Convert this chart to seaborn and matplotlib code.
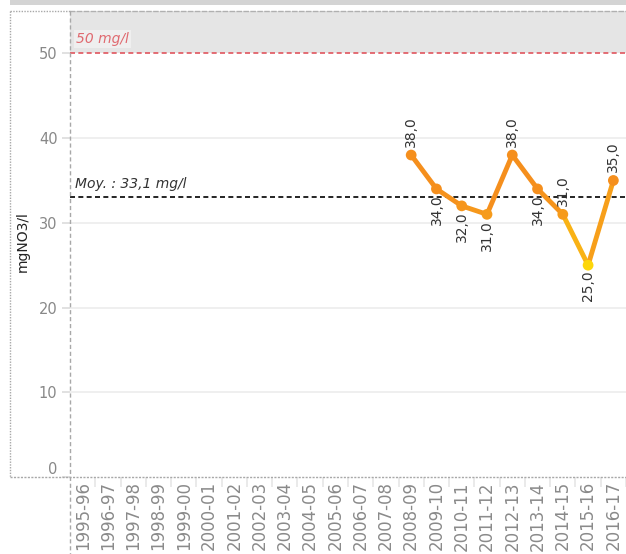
import numpy as np
import pandas as pd
import matplotlib
matplotlib.use('Agg')
import matplotlib.pyplot as plt
import seaborn as sns
from matplotlib.colors import LinearSegmentedColormap
from matplotlib.collections import LineCollection
from matplotlib.patches import Rectangle
from matplotlib.lines import Line2D

# Data
seasons = ['1995-96', '1996-97', '1997-98', '1998-99', '1999-00', '2000-01',
           '2001-02', '2002-03', '2003-04', '2004-05', '2005-06', '2006-07',
           '2007-08', '2008-09', '2009-10', '2010-11', '2011-12', '2012-13',
           '2013-14', '2014-15', '2015-16', '2016-17']
measured_seasons = ['2008-09', '2009-10', '2010-11', '2011-12', '2012-13',
                    '2013-14', '2014-15', '2015-16', '2016-17']
nitrate = [38.0, 34.0, 32.0, 31.0, 38.0, 34.0, 31.0, 25.0, 35.0]
label_above = [True, False, False, False, True, False, True, False, True]
limit_value = 50
mean_value = 33.1
y_ticks = [0, 10, 20, 30, 40, 50]

sns.set_theme(style='white')
plt.rcParams['font.family'] = ['DejaVu Sans']

df = pd.DataFrame({'season': measured_seasons, 'no3': nitrate})
df['x'] = [seasons.index(s) for s in measured_seasons]

W, H = 626, 554
fig = plt.figure(figsize=(W / 100, H / 100), dpi=100)
left, right, top, bottom = 70, 626, 11, 477
ax = fig.add_axes([left / W, 1 - bottom / H, (right - left) / W, (bottom - top) / H])
step = 25.43
ax.set_xlim(-0.5, -0.5 + (right - left) / step)
ax.set_ylim(0, 55)

# background band above the limit
ax.axhspan(limit_value, 55, color='#e5e5e5', zorder=0, lw=0)
for y in [10, 20, 30, 40]:
    ax.axhline(y, color='#ececec', lw=1.2, zorder=1)
ax.axhline(limit_value, color='#e0555e', lw=1.2, ls=(0, (3, 2)), zorder=2)
ax.axhline(mean_value, color='black', lw=1.2, ls=(0, (3, 2)), zorder=2)

ax.text(-0.25, limit_value + 0.9, '50 mg/l', color='#e06a70',
        fontsize=10, style='italic', va='bottom', ha='left',
        bbox=dict(facecolor='#efefef', edgecolor='none', pad=1.5))
ax.text(-0.3, mean_value + 0.6, 'Moy. : 33,1 mg/l', color='#333333',
        fontsize=10, style='italic', va='bottom', ha='left')

# line coloured by value
cmap = LinearSegmentedColormap.from_list('no3', ['#fdd60a', '#f7a21a', '#f58f1d', '#f58f1d'])
norm = plt.Normalize(25, 38)
pts = df[['x', 'no3']].to_numpy()
segs = np.stack([pts[:-1], pts[1:]], axis=1)
seg_vals = (pts[:-1, 1] + pts[1:, 1]) / 2
lc = LineCollection(segs, colors=cmap(norm(seg_vals)), linewidths=3.5,
                    capstyle='round', joinstyle='round', zorder=3)
ax.add_collection(lc)
sns.scatterplot(data=df, x='x', y='no3', hue='no3', palette=cmap, hue_norm=norm,
                s=60, edgecolor='none', legend=False, ax=ax, zorder=4)

for xi, v, up in zip(df['x'], df['no3'], label_above):
    txt = f'{v:.1f}'.replace('.', ',')
    if up:
        ax.annotate(txt, (xi, v), xytext=(0, 6), textcoords='offset points',
                    rotation=90, ha='center', va='bottom', fontsize=10, color='#333333')
    else:
        ax.annotate(txt, (xi, v), xytext=(0, -4), textcoords='offset points',
                    rotation=90, ha='center', va='top', fontsize=10, color='#333333')

ax.set_xticks(range(len(seasons)))
ax.set_xticklabels(seasons, rotation=90, fontsize=12, color='#8a8a8a')
ax.set_xticks(np.arange(len(seasons)) + 0.5, minor=True)
ax.tick_params(axis='x', which='major', length=0, pad=3)
ax.tick_params(axis='x', which='minor', length=7, color='#e6e6e6', width=1.2, bottom=True)
ax.set_yticks(y_ticks)
ax.set_yticklabels([str(t) for t in y_ticks], fontsize=10.5, color='#888888')
ax.get_yticklabels()[0].set_va('bottom')
ax.tick_params(axis='y', length=6, color='#dddddd', left=True, pad=3)
ax.set_xlabel('')
ax.set_ylabel('')

for s in ax.spines.values():
    s.set_visible(False)
ax.spines['top'].set_visible(True)
ax.spines['top'].set_color('#b0b0b0')
ax.spines['top'].set_linestyle((0, (3, 2)))
ax.spines['top'].set_linewidth(1)

# frame pieces in figure pixels
def fx(px):
    return px / W

def fy(py):
    return 1 - py / H

fig.patches.append(Rectangle((fx(10), fy(5)), fx(616), 5 / H, transform=fig.transFigure,
                             color='#d4d4d4', lw=0, zorder=0))
gray = '#a8a8a8'
fig.lines.append(Line2D([fx(10), fx(10)], [fy(11), fy(477)], transform=fig.transFigure,
                        color=gray, lw=1, ls=(0, (1, 1))))
fig.lines.append(Line2D([fx(10), fx(70)], [fy(11), fy(11)], transform=fig.transFigure,
                        color=gray, lw=1, ls=(0, (1, 1))))
fig.lines.append(Line2D([fx(10), fx(626)], [fy(477), fy(477)], transform=fig.transFigure,
                        color=gray, lw=1, ls=(0, (1.5, 1))))
fig.lines.append(Line2D([fx(70), fx(70)], [fy(11), fy(554)], transform=fig.transFigure,
                        color=gray, lw=1, ls=(0, (3, 2))))

fig.text(fx(23), fy(242), 'mgNO3/l', rotation=90, ha='center', va='center',
         fontsize=10, color='#222222')

fig.savefig('out.png', dpi=100)
